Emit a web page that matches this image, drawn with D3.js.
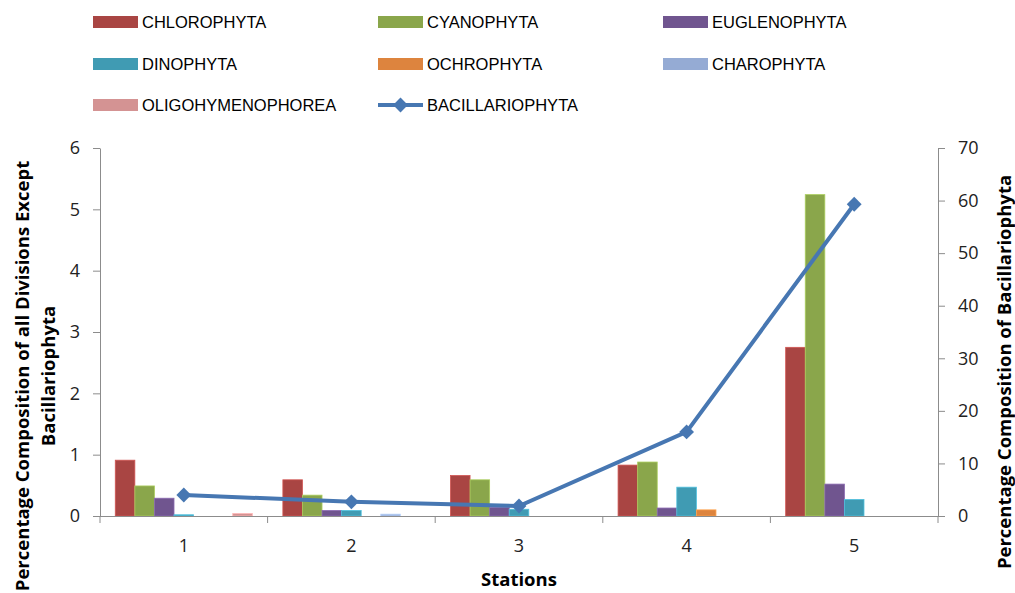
<!DOCTYPE html>
<html>
<head>
<meta charset="utf-8">
<script src="https://cdn.jsdelivr.net/npm/d3@7"></script>
<style>
  body { margin: 0; background: #fff; }
  text { font-family: "Liberation Sans", sans-serif; fill: #000; }
  .tick text { font-family: "Open Sans", sans-serif; font-size: 18px; fill: #222; }
  .axis path, .axis line { stroke: #8c8c8c; }
  .title { font-family: "Open Sans", sans-serif; font-weight: bold; font-size: 18.5px; }
</style>
</head>
<body>
<script>
// stations and values
const stations = ["1", "2", "3", "4", "5"];
const seriesNames = ["CHLOROPHYTA", "CYANOPHYTA", "EUGLENOPHYTA", "DINOPHYTA", "OCHROPHYTA", "CHAROPHYTA", "OLIGOHYMENOPHOREA"];
const chlorophyta = [0.91, 0.59, 0.66, 0.83, 2.75];
const cyanophyta = [0.49, 0.34, 0.59, 0.88, 5.24];
const euglenophyta = [0.29, 0.09, 0.14, 0.13, 0.52];
const dinophyta = [0.02, 0.09, 0.11, 0.47, 0.27];
const ochrophyta = [0, 0, 0, 0.10, 0];
const charophyta = [0, 0.03, 0, 0, 0];
const oligohymenophorea = [0.04, 0, 0, 0, 0];
const bacillariophyta = [4.0, 2.7, 1.9, 16.0, 59.3];
const leftTicks = [0, 1, 2, 3, 4, 5, 6];
const rightTicks = [0, 10, 20, 30, 40, 50, 60, 70];

const barColors = ["#a94543", "#8aa64b", "#70558f", "#409bb3", "#dd843e", "#95abd4", "#d49393"];
const lineColor = "#4777b2";

const width = 1015, height = 593;
const plotLeft = 100, plotRight = 938, plotTop = 148, plotBottom = 516;

const series = [chlorophyta, cyanophyta, euglenophyta, dinophyta, ochrophyta, charophyta, oligohymenophorea];

const svg = d3.select("body").append("svg")
    .attr("width", width)
    .attr("height", height);

const x = d3.scaleBand().domain(stations).range([plotLeft, plotRight]);
const inner = d3.scaleBand().domain(d3.range(series.length))
    .range([0, x.bandwidth()]).paddingOuter(0.78);
const yLeft = d3.scaleLinear().domain([0, 6]).range([plotBottom, plotTop]);
const yRight = d3.scaleLinear().domain([0, 70]).range([plotBottom, plotTop]);

// bars
series.forEach((vals, i) => {
    svg.append("g").selectAll("rect")
        .data(vals)
        .enter()
        .append("rect")
        .attr("x", (d, j) => x(stations[j]) + inner(i))
        .attr("width", inner.bandwidth())
        .attr("y", d => yLeft(d))
        .attr("height", d => plotBottom - yLeft(d))
        .attr("fill", barColors[i])
        .attr("stroke", d3.color(barColors[i]).brighter(0.6))
        .attr("stroke-width", 0.8);
});

// axes
svg.append("g").attr("class", "axis")
    .attr("transform", `translate(${plotLeft},0)`)
    .call(d3.axisLeft(yLeft).tickValues(leftTicks).tickFormat(d3.format("d"))
        .tickSize(7).tickPadding(13).tickSizeOuter(0));

svg.append("g").attr("class", "axis")
    .attr("transform", `translate(${plotRight},0)`)
    .call(d3.axisRight(yRight).tickValues(rightTicks).tickSize(7).tickPadding(13).tickSizeOuter(0));

const xAxis = svg.append("g").attr("class", "axis")
    .attr("transform", `translate(0,${plotBottom})`)
    .call(d3.axisBottom(x).tickSize(0).tickPadding(23));
xAxis.select(".domain").attr("d", `M${plotLeft},0.5H${plotRight}`);
xAxis.selectAll(".bound")
    .data(d3.range(stations.length + 1))
    .enter()
    .append("line")
    .attr("x1", i => plotLeft + i * x.bandwidth())
    .attr("x2", i => plotLeft + i * x.bandwidth())
    .attr("y1", 0).attr("y2", 7);

// Bacillariophyta line
const line = d3.line()
    .x((d, j) => x(stations[j]) + x.bandwidth() / 2)
    .y(d => yRight(d));
svg.append("path")
    .datum(bacillariophyta)
    .attr("d", line)
    .attr("fill", "none")
    .attr("stroke", lineColor)
    .attr("stroke-width", 4);

const diamond = d3.symbol().type(d3.symbolSquare).size(110);
svg.append("g").selectAll("path")
    .data(bacillariophyta)
    .enter()
    .append("path")
    .attr("d", diamond)
    .attr("transform", (d, j) => `translate(${x(stations[j]) + x.bandwidth() / 2},${yRight(d)}) rotate(45)`)
    .attr("fill", lineColor);

// axis titles
svg.append("text").attr("class", "title")
    .attr("x", (plotLeft + plotRight) / 2).attr("y", 586)
    .attr("text-anchor", "middle").text("Stations");

const leftTitle = svg.append("text").attr("class", "title")
    .attr("transform", "translate(29,376) rotate(-90)")
    .attr("text-anchor", "middle");
leftTitle.append("tspan").attr("x", 0).attr("y", 0).text("Percentage Composition of all Divisions Except");
leftTitle.append("tspan").attr("x", 0).attr("y", 26).text("Bacillariophyta");

svg.append("text").attr("class", "title")
    .attr("transform", "translate(1011,372) rotate(-90)")
    .attr("text-anchor", "middle")
    .text("Percentage Composition of Bacillariophyta");

// legend
const legendItems = seriesNames.map((n, i) => ({name: n, color: barColors[i], type: "bar"}));
legendItems.push({name: "BACILLARIOPHYTA", color: lineColor, type: "line"});
const colX = [93, 378, 663], rowY = [22, 64, 105];

const legend = svg.append("g").selectAll("g")
    .data(legendItems)
    .enter()
    .append("g")
    .attr("transform", (d, i) => `translate(${colX[i % 3]},${rowY[Math.floor(i / 3)]})`);

legend.filter(d => d.type === "bar").append("rect")
    .attr("x", 0).attr("y", -6).attr("width", 45).attr("height", 12)
    .attr("fill", d => d.color);

legend.filter(d => d.type === "line").append("line")
    .attr("x1", 0).attr("x2", 45).attr("y1", 0).attr("y2", 0)
    .attr("stroke", d => d.color).attr("stroke-width", 4);
legend.filter(d => d.type === "line").append("path")
    .attr("d", diamond)
    .attr("transform", "translate(22.5,0) rotate(45)")
    .attr("fill", d => d.color);

legend.append("text")
    .attr("x", 49).attr("y", 0).attr("dy", "0.35em")
    .attr("font-size", 16.5)
    .text(d => d.name);
</script>
</body>
</html>
